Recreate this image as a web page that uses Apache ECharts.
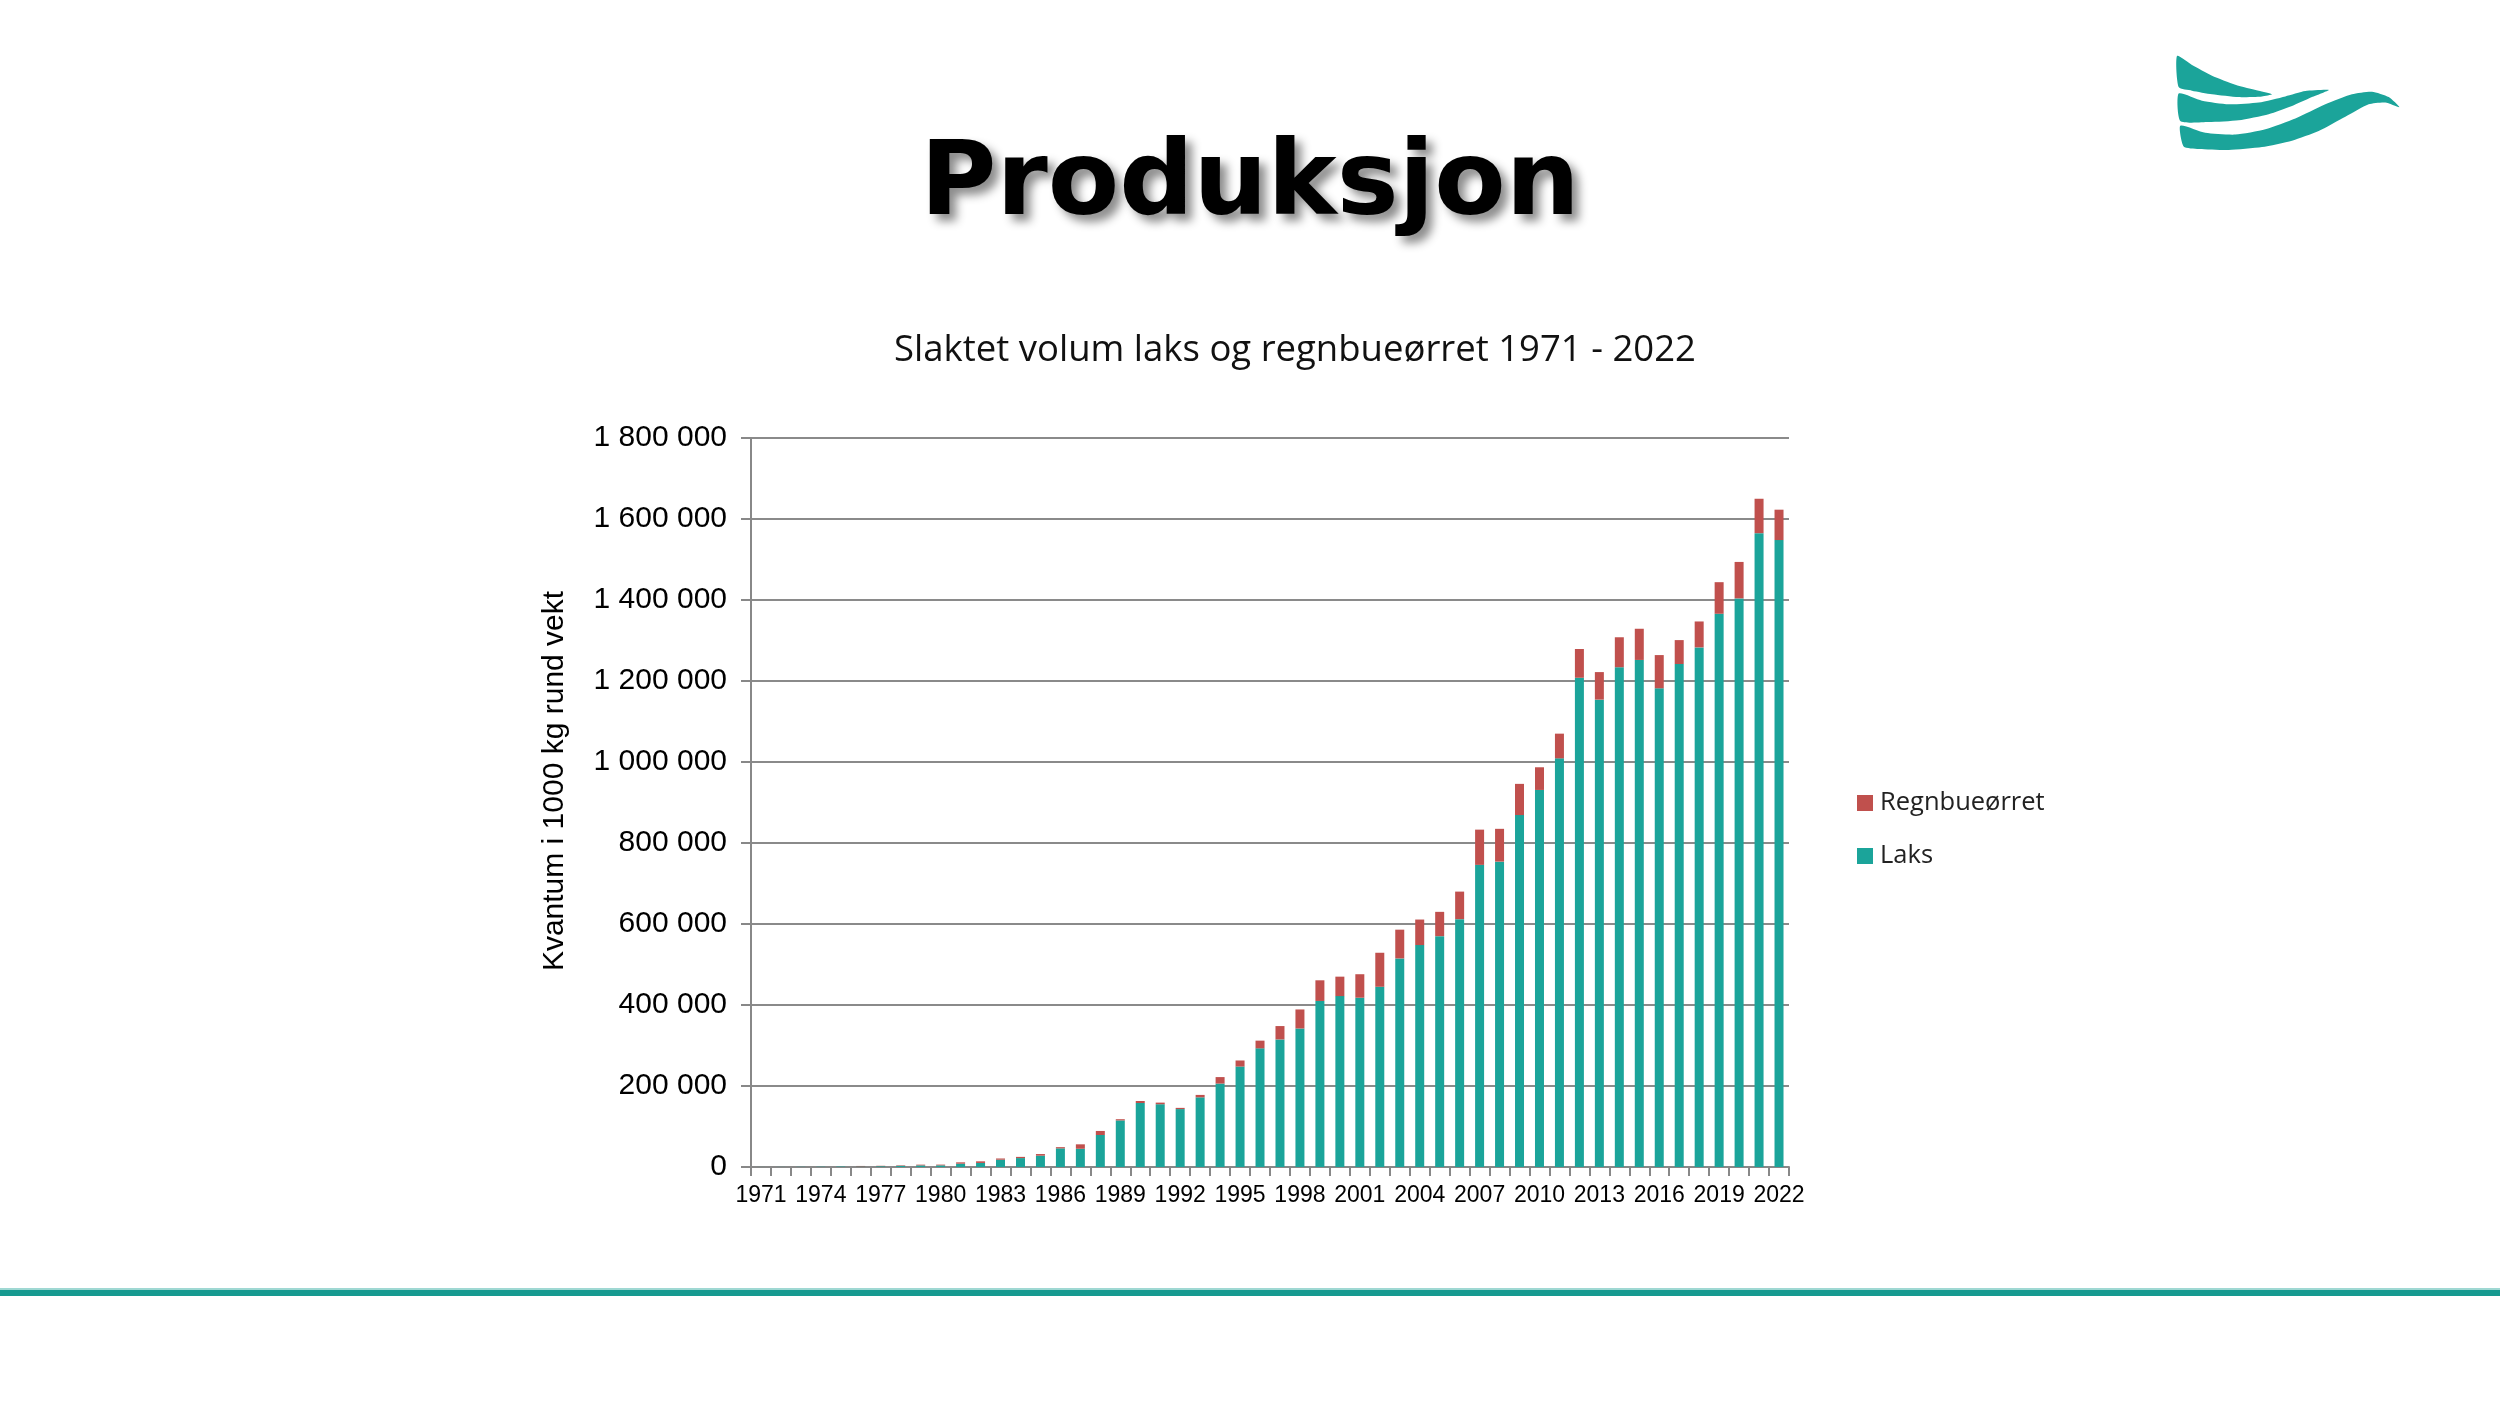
<!DOCTYPE html>
<html>
<head>
<meta charset="utf-8">
<title>Produksjon</title>
<script src="https://cdn.jsdelivr.net/npm/echarts@6/dist/echarts.min.js"></script>
<style>
  html, body { margin: 0; padding: 0; background: #fff; }
  #chart { width: 2500px; height: 1406px; }
</style>
</head>
<body>
<div id="chart"></div>
<script>
// years on the x axis
const years = [];
for (let y = 1971; y <= 2022; y++) years.push(String(y));

// slaktet volum, 1000 kg rund vekt
const laks = [
  100, 200, 400, 600, 1000, 1400, 2000, 3000, 4000, 4100,
  8200, 10000, 18000, 22000, 28000, 46000, 45000, 79000, 115000, 158000,
  155000, 143000, 172000, 206000, 248000, 293000, 315000, 342000, 410000, 422000,
  418000, 445000, 515000, 548000, 570000, 612000, 746000, 754000, 869000, 931000,
  1009000, 1208000, 1154000, 1234000, 1252000, 1182000, 1242000, 1283000, 1366000, 1404000,
  1565000, 1548000
];
const regnbueorret = [
  0, 0, 0, 0, 0, 1200, 1000, 1200, 1800, 1800,
  3300, 4000, 3000, 3000, 4000, 3000, 11000, 10000, 3000, 5000,
  4000, 3000, 6000, 16000, 15000, 19000, 33000, 47000, 51000, 48000,
  58000, 84000, 71000, 63000, 60000, 68000, 87000, 81000, 77000, 56000,
  61000, 71000, 68000, 74000, 77000, 82000, 59000, 64000, 78000, 90000,
  85000, 75000
];

const yTicks = { min: 0, max: 1800000, interval: 200000 };

const teal = '#1ba49a';
const red = '#c0504d';

function spaced(v) {
  return String(v).replace(/\B(?=(\d{3})+(?!\d))/g, ' ');
}

// logo outline points, in a 3x crop of the logo corner
function logoShape(points) {
  return {
    type: 'polygon',
    shape: { points: points, smooth: 0.2 },
    style: { fill: teal }
  };
}

const chart = echarts.init(document.getElementById('chart'));

const option = {
  backgroundColor: '#fff',
  animation: false,
  title: {
    text: 'Produksjon',
    left: 'center',
    top: 130,
    textStyle: {
      fontFamily: 'DejaVu Sans',
      fontWeight: 'bold',
      fontSize: 104,
      color: '#000',
      textShadowColor: 'rgba(0,0,0,0.45)',
      textShadowBlur: 10,
      textShadowOffsetX: 7,
      textShadowOffsetY: 7
    }
  },
  legend: {
    orient: 'vertical',
    left: 1852,
    top: 785,
    itemWidth: 16,
    itemHeight: 16,
    itemGap: 27,
    icon: 'rect',
    data: ['Regnbueørret', 'Laks'],
    textStyle: {
      fontFamily: 'Open Sans',
      fontSize: 25.5,
      color: '#222',
      padding: [0, 0, 0, 2]
    }
  },
  grid: {
    left: 751,
    right: 711,
    top: 438,
    bottom: 239,
    containLabel: false
  },
  xAxis: {
    type: 'category',
    data: years,
    boundaryGap: true,
    axisLine: { lineStyle: { color: '#888', width: 2 } },
    axisTick: {
      show: true,
      alignWithLabel: false,
      interval: 0,
      length: 9,
      lineStyle: { color: '#888', width: 2 }
    },
    axisLabel: {
      interval: 2,
      margin: 17,
      fontFamily: 'Liberation Sans',
      fontSize: 23,
      color: '#000'
    }
  },
  yAxis: {
    type: 'value',
    min: yTicks.min,
    max: yTicks.max,
    interval: yTicks.interval,
    axisLine: { show: true, lineStyle: { color: '#888', width: 2 } },
    axisTick: { show: true, length: 10, lineStyle: { color: '#888', width: 2 } },
    splitLine: { lineStyle: { color: '#8a8a8a', width: 2 } },
    axisLabel: {
      margin: 24,
      fontFamily: 'Liberation Sans',
      fontSize: 30,
      color: '#000',
      formatter: spaced
    }
  },
  series: [
    {
      name: 'Laks',
      type: 'bar',
      stack: 'total',
      barWidth: 9,
      itemStyle: { color: teal },
      data: laks
    },
    {
      name: 'Regnbueørret',
      type: 'bar',
      stack: 'total',
      barWidth: 9,
      itemStyle: { color: red },
      data: regnbueorret
    }
  ],
  graphic: [
    {
      type: 'text',
      x: 1295,
      y: 351,
      style: {
        text: 'Slaktet volum laks og regnbueørret 1971 - 2022',
        fontFamily: 'Open Sans',
        fontSize: 36.5,
        fill: '#111',
        textAlign: 'center',
        textVerticalAlign: 'middle'
      }
    },
    {
      // y axis title
      type: 'text',
      x: 555,
      y: 781,
      rotation: Math.PI / 2,
      style: {
        text: 'Kvantum i 1000 kg rund vekt',
        fontFamily: 'Liberation Sans',
        fontSize: 30,
        fill: '#000',
        textAlign: 'center',
        textVerticalAlign: 'middle'
      }
    },
    {
      type: 'group',
      x: 2152,
      y: 40,
      scaleX: 1 / 3,
      scaleY: 0.357,
      children: [
        logoShape([[75, 45], [120, 70], [180, 100], [250, 125], [320, 142], [360, 152],
          [330, 158], [260, 160], [180, 152], [120, 142], [80, 132]]),
        logoShape([[80, 150], [150, 170], [230, 180], [320, 175], [400, 158], [460, 143], [530, 140],
          [480, 160], [420, 185], [350, 208], [260, 225], [170, 230], [85, 227]]),
        logoShape([[85, 240], [160, 260], [250, 265], [340, 250], [430, 220], [520, 180], [600, 152],
          [660, 145], [710, 160], [742, 188], [700, 175], [650, 180], [580, 215], [500, 255],
          [420, 282], [330, 300], [230, 308], [140, 305], [95, 298]])
      ]
    },
    {
      type: 'rect',
      shape: { x: 0, y: 1290, width: 2500, height: 6 },
      style: { fill: '#169a90' }
    },
    {
      type: 'rect',
      shape: { x: 0, y: 1288, width: 2500, height: 2 },
      style: { fill: '#9fd8d3' }
    }
  ]
};

chart.setOption(option);
</script>
</body>
</html>
